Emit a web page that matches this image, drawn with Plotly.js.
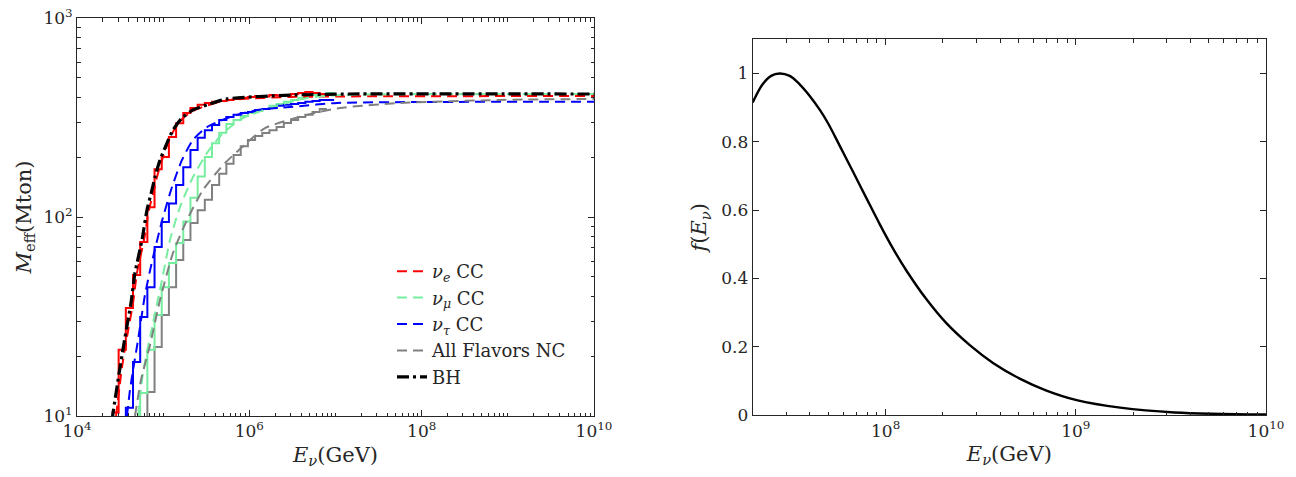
<!DOCTYPE html>
<html><head><meta charset="utf-8">
<script src="https://cdn.plot.ly/plotly-3.0.1.min.js"></script>
<style>html,body{margin:0;padding:0;background:#fff}#chart{width:1296px;height:477px}</style>
</head><body><div id="chart"></div><script>
// ---------- Left panel: effective mass (Mton) vs E_nu (GeV) ----------
// histogram bin edges (GeV)
const binEdges = [2.512e4, 3.043e4, 3.687e4, 4.467e4, 5.412e4, 6.557e4, 7.943e4, 9.624e4,
  1.166e5, 1.413e5, 1.711e5, 2.073e5, 2.512e5, 3.043e5, 3.687e5, 4.467e5, 5.412e5, 6.557e5,
  7.943e5, 9.624e5, 1.166e6, 1.413e6, 1.711e6, 2.073e6, 2.512e6, 3.043e6, 3.687e6, 4.467e6,
  5.412e6, 6.557e6, 7.943e6, 9.624e6];
// histogram (step) values per bin, Mton
const nueStep = [10.4, 21.5, 34.9, 51.1, 74.8, 112, 174, 200, 252, 296, 333, 353, 366, 374, 379,
  383, 387, 392, 397, 401, 406, 403, 410, 408, 410, 415, 420, 425, 420, 415, 410];
const numuStep = [null, null, null, 8, 13.05, 21.5, 32.2, 44.4, 58.7, 74, 95, 125, 160, 200, 235,
  265, 293, 307, 322, 333, 341, 349, 362, 370, 379, 387, 397, 406, 410, 415, 420];
const nutauStep = [null, 8, 11.0, 18.7, 31.4, 44.4, 70.6, 94.4, 117, 145, 178, 217, 250, 273, 290,
  307, 318, 326, 333, 337, 345, 349, 353, 362, 366, 370, 374, 379, 383, 387, 387];
const ncStep = [null, null, null, null, 8, 13.2, 22.2, 32.2, 44.4, 60.8, 76.6, 93.3, 108, 122, 145,
  165, 185, 205, 227, 244, 255, 264, 273, 283, 297, 307, 318, 326, 337, 349];

// smooth (dashed) curves
const nueE = [2.84e4, 3.33e4, 3.80e4, 4.47e4, 4.97e4, 5.99e4, 6.85e4, 7.83e4, 8.48e4, 9.69e4,
  1.138e5, 1.336e5, 1.70e5, 2.34e5, 3.69e5, 5.97e5, 2.97e6, 1e10];
const nueM = [10, 17.6, 24.9, 37.0, 52.3, 76.6, 108.4, 136.7, 158.9, 193.2, 235.4, 273.5, 314.3,
  345, 370, 387.5, 401, 405];
const numuE = [5.11e4, 5.83e4, 7.62e4, 9.69e4, 1.20e5, 1.57e5, 2.22e5, 3.23e5, 4.95e5, 8.44e5,
  1.88e6, 4.67e6, 1.13e7, 1e10];
const numuM = [10, 16.45, 29.3, 48.2, 76.6, 112.3, 158.9, 209.7, 264.2, 314.3, 357.3, 396.6, 410.5, 415];
const nutauE = [3.80e4, 4.12e4, 4.47e4, 5.11e4, 6.15e4, 7.41e4, 9.69e4, 1.266e5, 1.65e5, 2.22e5,
  3.23e5, 5.97e5, 1.23e6, 2.97e6, 1.04e7, 1e10];
const nutauM = [10, 13.5, 17.0, 24.1, 40.6, 59.5, 95.5, 141.5, 193, 244, 283, 318, 345, 357, 374, 379];
const ncE = [4.71e4, 5.53e4, 7.03e4, 9.19e4, 1.30e5, 1.89e5, 2.90e5, 4.95e5, 1.018e6, 1.52e6,
  4.67e6, 1.13e7, 5.60e7, 8.11e8, 1e10];
const ncM = [10, 15.17, 22.7, 38.3, 65.9, 96.6, 136.7, 182.4, 243.8, 280, 326, 353, 374, 387.5, 392];
const bhE = [2.55e4, 2.62e4, 3.16e4, 3.61e4, 4.23e4, 4.71e4, 5.68e4, 6.49e4, 7.41e4, 8.04e4, 9.19e4,
  1.107e5, 1.30e5, 1.65e5, 2.22e5, 3.49e5, 5.51e5, 2.97e6, 1.47e7, 1e10];
const bhM = [9.5, 10.35, 17.6, 24.9, 37.0, 52.3, 76.6, 108.4, 136.7, 158.9, 193.2, 235.4, 273.5,
  314.3, 345.1, 370, 392, 410, 415, 415];

const legendNames = ['<i>ν</i><sub><i>e</i></sub> CC', '<i>ν</i><sub><i>μ</i></sub> CC',
  '<i>ν</i><sub><i>τ</i></sub> CC', 'All Flavors NC', 'BH'];

// ---------- Right panel: f(E_nu) ----------
const fE = [2.0e7, 2.26e7, 2.50e7, 2.77e7, 3.13e7, 3.52e7, 3.98e7, 4.50e7, 4.97e7, 5.73e7, 6.73e7,
  7.91e7, 9.29e7, 1.09e8, 1.29e8, 1.64e8, 2.08e8, 2.77e8, 3.67e8, 5.07e8, 7.01e8, 1.01e9,
  1.71e9, 3.30e9, 1e10];
const fVal = [0.915, 0.969, 0.993, 1.0, 0.993, 0.969, 0.935, 0.894, 0.855, 0.789, 0.713, 0.636,
  0.560, 0.489, 0.422, 0.339, 0.270, 0.205, 0.153, 0.107, 0.072, 0.044, 0.022, 0.008, 0.002];

// tick labels
const leftXTicks = [1e4, 1e6, 1e8, 1e10];
const leftXText = ['10<sup>4</sup>', '10<sup>6</sup>', '10<sup>8</sup>', '10<sup>10</sup>'];
const leftYTicks = [10, 100, 1000];
const leftYText = ['10<sup>1</sup>', '10<sup>2</sup>', '10<sup>3</sup>'];
const rightXTicks = [1e8, 1e9, 1e10];
const rightXText = ['10<sup>8</sup>', '10<sup>9</sup>', '10<sup>10</sup>'];
const rightYTicks = [0, 0.2, 0.4, 0.6, 0.8, 1];
const rightYText = ['0', '0.2', '0.4', '0.6', '0.8', '1'];

const RED = '#FF0000', GREEN = '#77EE9F', BLUE = '#0000FF', GRAY = '#808080';
const DASH = '10px,6px';

function stepTrace(vals, color) {
  const x = binEdges.slice(0, vals.length + 1);
  const y = vals.concat([vals[vals.length - 1]]);
  return {x: x, y: y, type: 'scatter', mode: 'lines', line: {shape: 'hv', color: color, width: 2},
    showlegend: false, hoverinfo: 'skip', xaxis: 'x', yaxis: 'y'};
}
function dashTrace(x, y, color, name) {
  return {x: x, y: y, type: 'scatter', mode: 'lines', name: name,
    line: {color: color, width: 2, dash: DASH, shape: 'spline', smoothing: 0.6}, xaxis: 'x', yaxis: 'y'};
}

const traces = [
  stepTrace(ncStep, GRAY), stepTrace(numuStep, GREEN), stepTrace(nutauStep, BLUE), stepTrace(nueStep, RED),
  dashTrace(nueE, nueM, RED, legendNames[0]),
  dashTrace(numuE, numuM, GREEN, legendNames[1]),
  dashTrace(nutauE, nutauM, BLUE, legendNames[2]),
  dashTrace(ncE, ncM, GRAY, legendNames[3]),
  {x: bhE, y: bhM, type: 'scatter', mode: 'lines', name: legendNames[4],
    line: {color: '#000000', width: 3.2, dash: '12px,4px,3px,4px', shape: 'spline', smoothing: 0.6},
    xaxis: 'x', yaxis: 'y'},
  {x: fE, y: fVal, type: 'scatter', mode: 'lines', showlegend: false,
    line: {color: '#000000', width: 2.4, shape: 'spline', smoothing: 1}, xaxis: 'x2', yaxis: 'y2'}
];

// minor tick positions (all 1..9 multiples per decade, excluding labelled decades)
function minorLog(decFrom, decTo, startMult, skip) {
  const v = [];
  for (let d = decFrom; d < decTo; d++) {
    for (let m = 1; m <= 9; m++) {
      if (d === decFrom && m < startMult) continue;
      const val = m * Math.pow(10, d);
      if (m === 1 && skip.indexOf(val) >= 0) continue;
      v.push(val);
    }
  }
  return v;
}

const AX = '#262626';
const FONT = 'DejaVu Serif';
const axBase = {
  showline: true, linecolor: AX, linewidth: 1, mirror: 'ticks', ticks: 'inside', ticklen: 6,
  tickwidth: 1, tickcolor: AX, showgrid: false, zeroline: false, tickmode: 'array',
  tickfont: {family: FONT, size: 17, color: AX}
};
const minorBase = {tickmode: 'array', ticks: 'inside', ticklen: 3.5, tickcolor: AX, tickwidth: 1, showgrid: false};
const titleFont = {family: FONT, size: 21, color: AX};

const layout = {
  width: 1296, height: 477, margin: {l: 0, r: 0, t: 0, b: 0},
  paper_bgcolor: '#ffffff', plot_bgcolor: '#ffffff',
  font: {family: FONT, color: AX},
  showlegend: true,
  legend: {x: 392 / 1296, y: 1 - 253 / 477, xanchor: 'left', yanchor: 'top', bgcolor: 'rgba(0,0,0,0)',
    font: {family: FONT, size: 18, color: AX}, traceorder: 'normal'},
  xaxis: Object.assign({}, axBase, {type: 'log', range: [4, 10], domain: [77 / 1296, 594 / 1296],
    anchor: 'y', tickvals: leftXTicks, ticktext: leftXText,
    minor: Object.assign({}, minorBase, {tickvals: minorLog(4, 10, 2, leftXTicks)}),
    title: {text: '<i>E</i><sub><i>ν</i></sub>(GeV)', font: titleFont, standoff: 6}}),
  yaxis: Object.assign({}, axBase, {type: 'log', range: [1, 3], domain: [61 / 477, 459 / 477],
    anchor: 'x', tickvals: leftYTicks, ticktext: leftYText,
    minor: Object.assign({}, minorBase, {tickvals: minorLog(1, 3, 2, leftYTicks)}),
    title: {text: '<i>M</i><sub>eff</sub>(Mton)', font: titleFont, standoff: 6}}),
  xaxis2: Object.assign({}, axBase, {type: 'log', range: [Math.log10(2e7), 10],
    domain: [752.7 / 1296, 1266 / 1296], anchor: 'y2', tickvals: rightXTicks, ticktext: rightXText,
    minor: Object.assign({}, minorBase, {tickvals: minorLog(7, 10, 3, rightXTicks)}),
    title: {text: '<i>E</i><sub><i>ν</i></sub>(GeV)', font: titleFont, standoff: 6}}),
  yaxis2: Object.assign({}, axBase, {range: [0, 1.1], domain: [61.8 / 477, 437.7 / 477], anchor: 'x2',
    tickvals: rightYTicks, ticktext: rightYText,
    title: {text: '<i>f</i>(<i>E</i><sub><i>ν</i></sub>)', font: titleFont, standoff: 8}})
};

Plotly.newPlot('chart', traces, layout, {displayModeBar: false, staticPlot: true});
</script></body></html>
